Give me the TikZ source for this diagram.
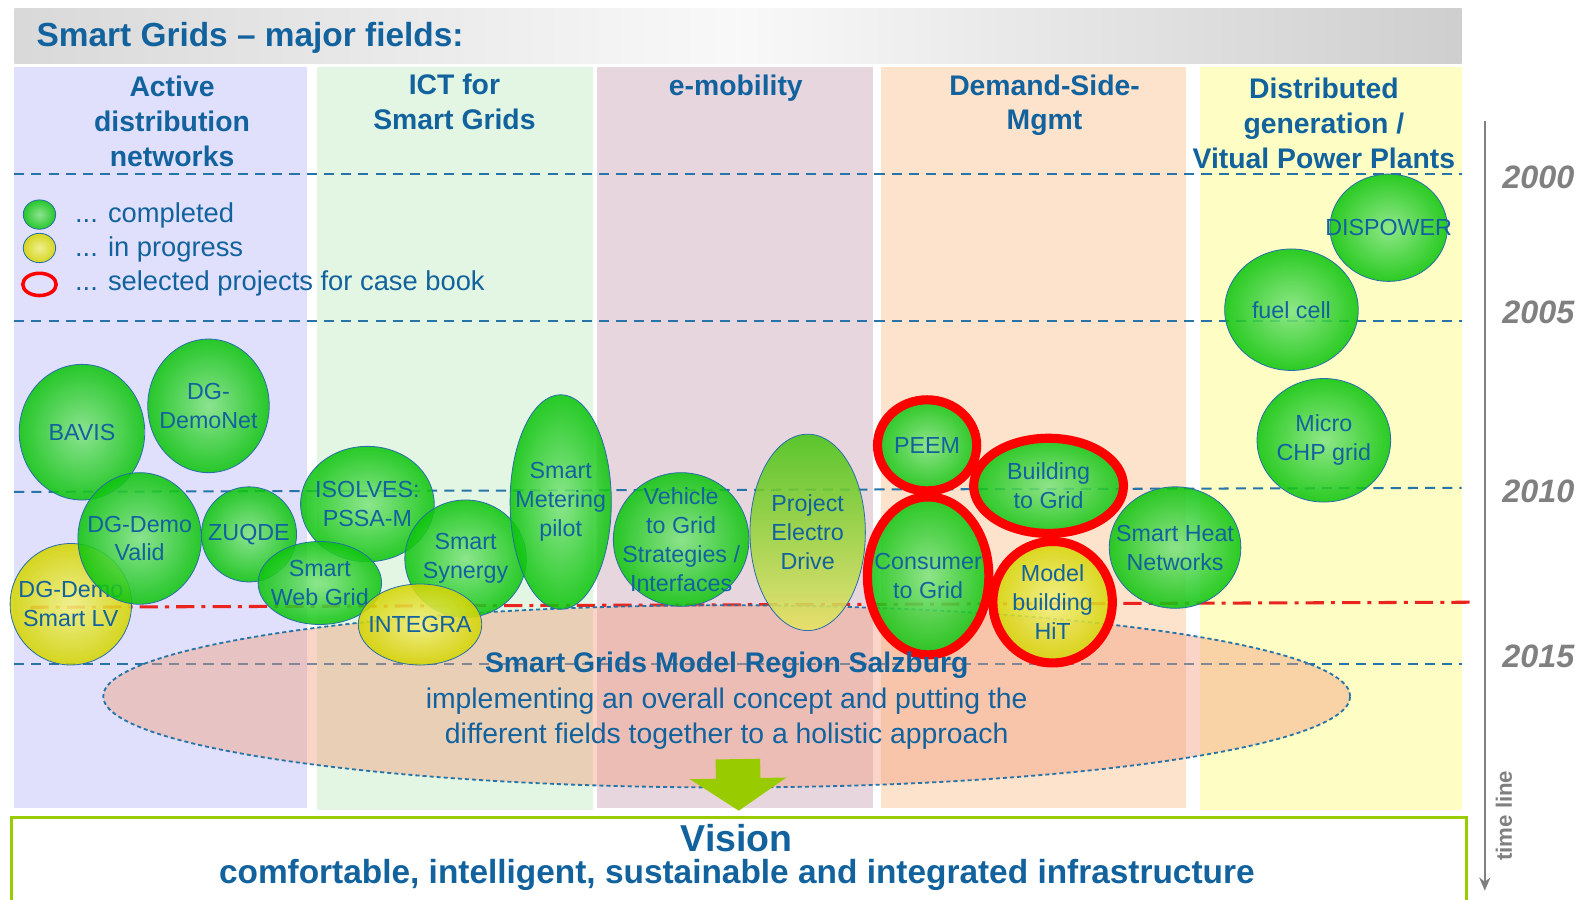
\documentclass[tikz,border=0pt]{standalone}
\usepackage{fontspec}
\setmainfont{Liberation Sans}
\usetikzlibrary{shapes.geometric,arrows.meta}

\definecolor{txtblue}{RGB}{18,98,158}
\definecolor{lineblue}{RGB}{38,116,168}
\definecolor{fieldA}{RGB}{224,224,252}
\definecolor{fieldB}{RGB}{227,246,227}
\definecolor{fieldC}{RGB}{232,214,223}
\definecolor{fieldD}{RGB}{253,226,204}
\definecolor{fieldE}{RGB}{254,254,196}
\definecolor{doneout}{RGB}{12,196,12}
\definecolor{donein}{RGB}{128,228,128}
\definecolor{runout}{RGB}{212,212,0}
\definecolor{runin}{RGB}{242,242,128}
\definecolor{drivetop}{RGB}{70,195,20}
\definecolor{drivebot}{RGB}{232,228,100}
\definecolor{bubline}{RGB}{40,110,170}
\definecolor{regionfill}{RGB}{243,160,130}
\definecolor{arrgreen}{RGB}{153,204,0}
\definecolor{yeargray}{RGB}{128,128,128}
\definecolor{planred}{RGB}{235,35,30}

\tikzset{
	fieldbox/.style={anchor=north west, inner sep=0},
	fieldhead/.style={text=txtblue, align=center, font=\bfseries\fontsize{28}{34.5}\selectfont},
	bubble/.style={ellipse, draw=bubline, line width=0.8, inner sep=0, fill opacity=0.87},
	done/.style={bubble, inner color=donein, outer color=doneout},
	running/.style={bubble, inner color=runin, outer color=runout},
	picked/.style={draw=red, line width=9},
	bubtext/.style={text=txtblue, align=center, font=\fontsize{23}{28.5}\selectfont},
	keytext/.style={text=txtblue, anchor=west, inner sep=2, font=\fontsize{27}{33}\selectfont},
	yearline/.style={lineblue, line width=2, dash pattern=on 10 off 7},
	year/.style={text=yeargray, font=\bfseries\itshape\fontsize{32}{36}\selectfont},
}

% project bubble: [style] name (centre) {half width} {half height} {text}
\def\Bub[#1]#2(#3,#4)#5#6#7{\node[#1, minimum width=2*#5, minimum height=2*#6] (#2) at (#3,#4) {}; \node[bubtext] (#2-t) at (#2) {#7};}

\begin{document}
\begin{tikzpicture}[x=1pt, y=-1pt]
	\useasboundingbox (0,0) rectangle (1568,889);

	% title bar
	\node[fieldbox, minimum width=1430, minimum height=55, left color=gray!30, right color=gray!38, middle color=gray!5] (titlebar) at (14,8) {};
	\node[anchor=west, inner sep=0, text=txtblue, font=\bfseries\fontsize{33}{40}\selectfont] (title) at (36,37) {Smart Grids – major fields:};

	% fields
	\node[fieldbox, fill=fieldA, minimum width=289, minimum height=732] (adn) at (14,66) {};
	\node[fieldbox, fill=fieldB, minimum width=273, minimum height=734] (ict) at (313,66) {};
	\node[fieldbox, fill=fieldC, minimum width=272, minimum height=732] (emob) at (590,66) {};
	\node[fieldbox, fill=fieldD, minimum width=302, minimum height=732] (dsm) at (870,66) {};
	\node[fieldbox, fill=fieldE, minimum width=259, minimum height=734] (dg) at (1185,66) {};

	\node[fieldhead] (adnhead) at (170,120) {Active\\distribution\\networks};
	\node[fieldhead] (icthead) at (449,101) {ICT for\\Smart Grids};
	\node[fieldhead] (emobhead) at (727,87) {e-mobility};
	\node[fieldhead] (dsmhead) at (1032,104) {Demand-Side-\\Mgmt};
	\node[fieldhead] (dghead) at (1308,122) {Distributed\\generation /\\Vitual Power Plants};

	% years
	\draw[yearline] (14,172) -- (1444,172);
	\draw[yearline] (14,317) -- (1444,317);
	\draw[yearline] (14,486) -- (1444,482);
	\draw[yearline] (14,656) -- (1444,656);

	% legend
	\node[done, minimum width=32, minimum height=29] (keydone) at (39,212) {};
	\node[running, minimum width=32, minimum height=29] (keyrun) at (39,245) {};
	\node[ellipse, draw=red, line width=3.5, minimum width=33, minimum height=22, inner sep=0] (keypick) at (39,281) {};
	\node[keytext] (keydonetxt) at (72,213) {... completed};
	\node[keytext] (keyruntxt) at (72,246) {... in progress};
	\node[keytext] (keypicktxt) at (72,280) {... selected projects for case book};

	% today
	\coordinate (planstart) at (30,600);
	\coordinate (planend) at (1452,595);
	\draw[planred, line width=3, dash pattern=on 18 off 7 on 4 off 7] (planstart) -- (planend);

	% model region
	\node[ellipse, draw=lineblue, line width=1.8, dash pattern=on 4 off 3, fill=regionfill, fill opacity=0.45, minimum width=1232, minimum height=180] (region) at (718,688) {};

	% projects
	\Bub[done]{bavis}(81,427){62}{67}{BAVIS}
	\Bub[done]{demonet}(206,401){60}{66}{DG-\\DemoNet}
	\Bub[running]{smartlv}(70,597){60}{60}{DG-Demo\\Smart LV}
	\Bub[done]{valid}(138,532){61}{65}{DG-Demo\\Valid}
	\Bub[done]{zuqde}(246,528){47}{47}{ZUQDE}
	\Bub[done]{isolves}(363,498){66}{57}{ISOLVES:\\PSSA-M}
	\Bub[done]{synergy}(460,552){60}{58}{Smart\\Synergy}
	\Bub[done]{webgrid}(316,576){61}{41}{Smart\\Web Grid}
	\Bub[running]{integra}(415,617){61}{40}{INTEGRA}
	\Bub[done]{metering}(554,496){50}{106}{Smart\\Metering\\pilot}
	\Bub[done]{vehicle}(673,533){67}{66}{Vehicle\\to Grid\\Strategies /\\Interfaces}
	\Bub[bubble, top color=drivetop, bottom color=drivebot]{drive}(798,526){57}{97}{Project\\Electro\\Drive}
	\Bub[done, picked]{consumer}(917,569){60}{78}{Consumer\\to Grid}
	\Bub[done, picked]{peem}(916,440){49}{45}{PEEM}
	\Bub[done, picked]{building}(1036,480){74}{47}{Building\\to Grid}
	\Bub[running, picked]{hit}(1040,595){59}{60}{Model\\building\\HiT}
	\Bub[done]{heat}(1161,541){65}{60}{Smart Heat\\Networks}
	\Bub[done]{dispower}(1372,225){58}{53}{DISPOWER}
	\Bub[done]{fuelcell}(1276,306){66}{60}{fuel cell}
	\Bub[done]{microchp}(1308,435){66}{61}{Micro\\CHP grid}

	\node[text=txtblue, font=\bfseries\fontsize{28}{34}\selectfont] (regtitle) at (718,657) {Smart Grids Model Region Salzburg};
	\node[text=txtblue, align=center, font=\fontsize{28}{34}\selectfont] (regtext) at (718,710) {implementing an overall concept and putting the\\different fields together to a holistic approach};

	% vision
	\node[fieldbox, draw=arrgreen, line width=3, fill=white, minimum width=1437, minimum height=100] (vision) at (10,806) {};
	\node[inner sep=0, text=txtblue, font=\bfseries\fontsize{37}{42}\selectfont] (visiontitle) at (728,828) {Vision};
	\node[inner sep=0, text=txtblue, font=\bfseries\fontsize{33}{38}\selectfont] (visiontext) at (728,864) {comfortable, intelligent, sustainable and integrated infrastructure};
	\coordinate (arrowtop) at (729,750);
	\draw[arrgreen, line width=44, shorten >=5, -{Triangle[length=32pt, width=94pt]}] (arrowtop) -- (vision.north);

	% time line
	\coordinate (tltop) at (1467,120);
	\coordinate (tlend) at (1467,880);
	\draw[yeargray, line width=2, -{Stealth[length=13pt, width=11pt]}] (tltop) -- (tlend);
	\node[text=yeargray, rotate=90, font=\bfseries\fontsize{22}{26}\selectfont] (tllabel) at (1486,806) {time line};
	\node[year] (y2000) at (1520,175) {2000};
	\node[year] (y2005) at (1520,309) {2005};
	\node[year] (y2010) at (1520,485) {2010};
	\node[year] (y2015) at (1520,648) {2015};
\end{tikzpicture}
\end{document}
